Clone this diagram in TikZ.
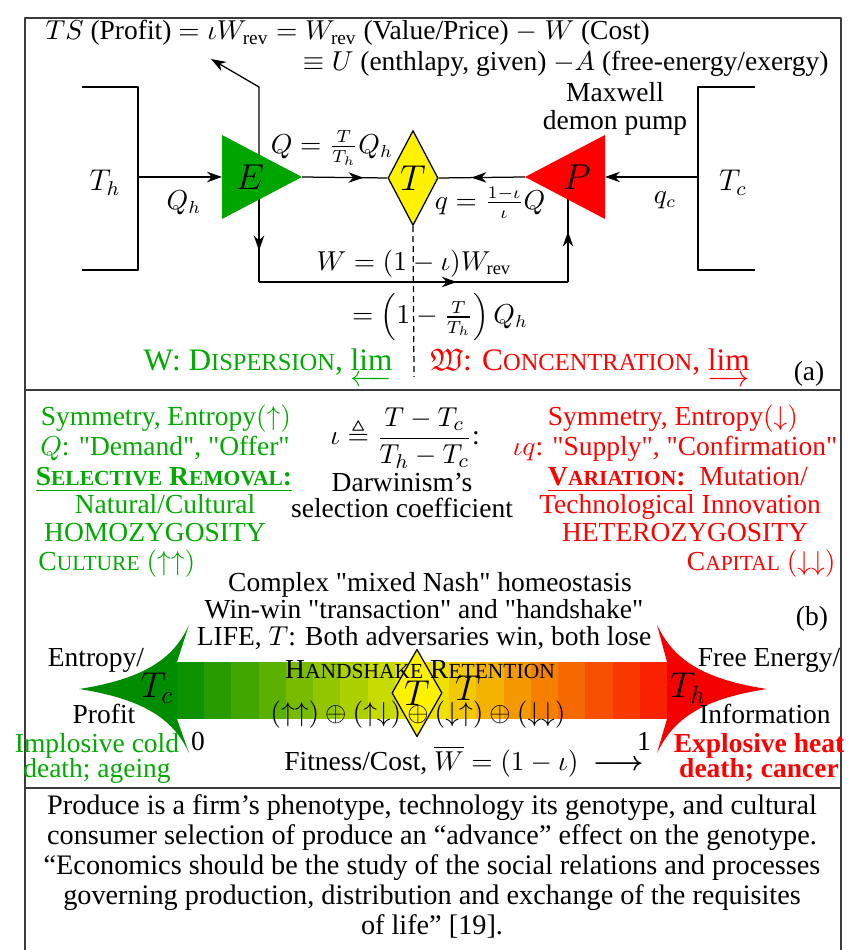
\documentclass[tikz,border=0pt]{standalone}
\usepackage{amsmath,amssymb}
\usepackage{fontspec}
\setmainfont{Liberation Serif}
\usetikzlibrary{shapes.geometric,arrows.meta,decorations.markings}
\definecolor{egreen}{RGB}{0,165,0}
\definecolor{tgreen}{RGB}{0,170,0}
\definecolor{hgreen}{RGB}{0,140,0}
\definecolor{bG}{RGB}{0,140,0}
\definecolor{bY}{RGB}{240,235,0}
\definecolor{bR}{RGB}{250,20,0}
\definecolor{hred}{RGB}{245,0,0}
\definecolor{framecol}{RGB}{60,60,60}
\newcommand\fsc[2]{#1{\fontsize{8.6}{10}\selectfont #2}}
\newcommand\fscb[2]{#1{\fontsize{9.8}{10}\selectfont #2}}
\newcommand\dq{\textquotedbl}
\begin{document}
\begin{tikzpicture}[x=0.4pt,y=-0.4pt, line join=round,
  txt/.style={inner sep=0pt, anchor=base, font=\fontsize{11}{12}\selectfont},
  mth/.style={inner sep=0pt, font=\fontsize{10.5}{12}\selectfont},
  mid/.style={inner sep=0pt, font=\fontsize{12}{14}\selectfont},
  big/.style={inner sep=0pt, font=\fontsize{14}{16}\selectfont},
  bigtxt/.style={inner sep=0pt, anchor=base, font=\fontsize{12.5}{14}\selectfont},
  conn/.style={line width=0.5pt},
  wall/.style={line width=1.1pt},
  tip/.style={-{Stealth[length=6pt,width=4.2pt]}},
  midarrow/.style={postaction={decorate},decoration={markings,mark=at position #1 with {\arrow{Stealth[length=6pt,width=4.2pt]}}}},
  dia/.style={diamond, draw, fill=yellow, line width=0.5pt, inner sep=0pt, font=\fontsize{14}{16}\selectfont}
]
\useasboundingbox (0,0) rectangle (849,950);
\fill[white] (0,0) rectangle (849,950);
% frame
\draw[framecol, line width=0.6pt] (25,951) -- (25,18) -- (841,18) -- (841,951);
\draw[framecol, line width=0.8pt] (25,390) -- (841,390);
\draw[framecol, line width=0.8pt] (25,788) -- (841,788);

% ---------------- part (a)
\node[txt, anchor=base west] (l1) at (45,40) {$TS$ (Profit) $=\iota W_{\mathrm{rev}}=W_{\mathrm{rev}}$ (Value/Price) $-\;W$ (Cost)};
\node[txt, anchor=base east] (l2) at (829,71) {$\equiv U$ (enthlapy, given) $-A$ (free-energy/exergy)};

\draw[wall] (82,87) -- (138,87) -- (138,270) -- (82,270);
\draw[wall] (755,87) -- (698,87) -- (698,270) -- (755,270);
\coordinate (hw) at (138,177);
\coordinate (cw) at (698,177);
\coordinate (Eback) at (222,177);
\coordinate (Eapex) at (302,177);
\coordinate (Pback) at (605,177);
\coordinate (Papex) at (525,177);
\coordinate (Ex) at (259,177);
\coordinate (up1) at (259,87);
\coordinate (upend) at (211,59);
\coordinate (dn1) at (259,282);
\coordinate (dn2) at (568,282);
\coordinate (Px) at (568,177);
\coordinate (dashend) at (414,377);

\node[dia, minimum width=19.6pt, minimum height=38pt] (T) at (413,178) {$T$};

\draw[conn,tip] (hw) -- (Eback);
\draw[conn,midarrow=0.72] (Eapex) -- (T.west);
\draw[conn,midarrow=0.62] (Papex) -- (T.east);
\draw[conn,tip] (cw) -- (Pback);
\draw[conn,tip] (Ex) -- (up1) -- (upend);
\draw[conn,midarrow=0.70] (Ex) -- (dn1);
\draw[conn,midarrow=0.64] (dn1) -- (dn2);
\draw[conn,midarrow=0.48] (dn2) -- (Px);
\draw[conn,dash pattern=on 2.4pt off 1.6pt] (T.south) -- (dashend);

\fill[egreen] (222,135) -- (302,177) -- (222,219) -- cycle;
\fill[red] (605,135) -- (525,177) -- (605,219) -- cycle;
\node[big] (E) at (250,177) {$E$};
\node[big] (P) at (577,177) {$P$};

\node[mth] (Qh) at (184,203) {$Q_h$};
\node[mth] (Qlbl) at (332,148) {$Q=\frac{T}{T_h}Q_h$};
\node[mth] (qlbl) at (490,203) {$q=\frac{1-\iota}{\iota}Q$};
\node[mth] (qc) at (665,200) {$q_c$};
\node[mid] (Th) at (105,183) {$T_h$};
\node[mid] (Tc) at (733,183) {$T_c$};
\node[inner sep=0pt, align=center, font=\fontsize{11}{11.2}\selectfont] (mx) at (615,109) {Maxwell\\demon pump};
\node[mth] (Wl) at (414,264) {$W=(1-\iota)W_{\mathrm{rev}}$};
\node[mth] (Wl2) at (440,317) {$=\left(1-\frac{T}{T_h}\right)Q_h$};
\node[bigtxt, text=tgreen] (disp) at (268,371) {W: \fscb{D}{ISPERSION}, $\varprojlim$};
\node[bigtxt, text=red] (conc) at (590,371) {$\mathfrak{W}$: \fscb{C}{ONCENTRATION}, $\varinjlim$};
\node[txt] (la) at (809,381) {(a)};

% ---------------- part (b)
\node[txt,text=tgreen] (s1) at (166,426) {Symmetry, Entropy$(\uparrow)$};
\node[txt,text=tgreen] (s2) at (165,456) {$Q$: \dq Demand\dq, \dq Offer\dq};
\node[txt,text=tgreen] (s3) at (164,486) {\underline{\textbf{\fsc{S}{ELECTIVE} \fsc{R}{EMOVAL}:}}};
\node[txt,text=tgreen] (s4) at (165,513) {Natural/Cultural};
\node[txt,text=tgreen] (s5) at (155,541) {HOMOZYGOSITY};
\node[txt,text=tgreen,anchor=base west] (s6) at (38,570) {\fsc{C}{ULTURE} $(\uparrow\uparrow)$};

\node[inner sep=0pt, font=\fontsize{11}{12}\selectfont] (iota) at (405,438) {$\iota\triangleq\dfrac{T-T_c}{T_h-T_c}$:};
\node[txt] (dw1) at (402,491) {Darwinism’s};
\node[txt] (dw2) at (402,518) {selection coefficient};

\node[txt,text=red] (r1) at (673,426) {Symmetry, Entropy$(\downarrow)$};
\node[txt,text=red] (r2) at (675,456) {$\iota q$: \dq Supply\dq, \dq Confirmation\dq};
\node[txt,text=red] (r3) at (678,486) {\underline{\textbf{\fsc{V}{ARIATION}:}\ } Mutation/};
\node[txt,text=red] (r4) at (680,513) {Technological Innovation};
\node[txt,text=red] (r5) at (685,541) {HETEROZYGOSITY};
\node[txt,text=red,anchor=base east] (r6) at (836,570) {\fsc{C}{APITAL} $(\downarrow\downarrow)$};

\node[txt] (cx1) at (430,591) {Complex \dq mixed Nash\dq\ homeostasis};
\node[txt] (cx2) at (424,618) {Win-win \dq transaction\dq\ and \dq handshake\dq};
\node[txt] (cx3) at (424,645) {LIFE, $T$: Both adversaries win, both lose};
\node[txt] (lb) at (812,625) {(b)};

% big double arrow body (stepped gradient)
\foreach \i in {0,...,17}{
  \pgfmathsetmacro\bt{(\i+0.5)/18}
  \pgfmathtruncatemacro\pa{min(100,200*\bt)}
  \pgfmathtruncatemacro\pb{max(0,200*\bt-100)}
  \colorlet{bandA}{bY!\pa!bG}
  \colorlet{bandB}{bR!\pb!bandA}
  \fill[bandB] ({177+\i*490/18},662) rectangle ({177+(\i+1)*490/18+0.6},719);
}
\fill[hgreen] (189,625) -- (177,662) -- (177,719) -- (189,753)
  .. controls (175,723) and (150,700) .. (79,689)
  .. controls (150,678) and (175,655) .. (189,625) -- cycle;
\fill[hred] (657,625) -- (667,662) -- (667,719) -- (657,753)
  .. controls (672,723) and (695,700) .. (767,689)
  .. controls (695,678) and (672,655) .. (657,625) -- cycle;

\node[dia, minimum width=20pt, minimum height=35pt] (T2) at (417,693) {$T$};
\node[txt] (hs) at (420,678) {\fsc{H}{ANDSHAKE} \fsc{R}{ETENTION}};
\node[big] (T3) at (468,688) {$T$};
\node[inner sep=0pt, font=\fontsize{11}{12}\selectfont] (ud) at (418,715) {$(\uparrow\uparrow)\oplus(\uparrow\downarrow)\oplus(\downarrow\uparrow)\oplus(\downarrow\downarrow)$};
\node[big] (Tcb) at (157,688) {$T_c$};
\node[big] (Thb) at (688,688) {$T_h$};
\node[txt] (en) at (96,666) {Entropy/};
\node[txt] (pr) at (104,723) {Profit};
\node[txt] (fe) at (769,666) {Free Energy/};
\node[txt] (inf) at (765,723) {Information};
\node[txt] (z0) at (198,750) {0};
\node[txt] (z1) at (644,750) {1};
\node[inner sep=0pt, align=center, text=tgreen, font=\fontsize{11}{10}\selectfont] (imp) at (97,758) {Implosive cold\\death; ageing};
\node[inner sep=0pt, align=center, text=red, font=\bfseries\fontsize{11}{10}\selectfont] (exp) at (759,758) {Explosive heat\\death; cancer};
\node[txt] (fit) at (464,770) {Fitness/Cost, $\overline{W}=(1-\iota)\ \boldsymbol{\longrightarrow}$};

% ---------------- bottom text
\node[inner sep=0pt, align=center, font=\fontsize{11.3}{12}\selectfont] (foot) at (432,866) {Produce is a firm’s phenotype, technology its genotype, and cultural\\consumer selection of produce an “advance” effect on the genotype.\\“Economics should be the study of the social relations and processes\\governing production, distribution and exchange of the requisites\\of life” [19].};
\end{tikzpicture}
\end{document}
